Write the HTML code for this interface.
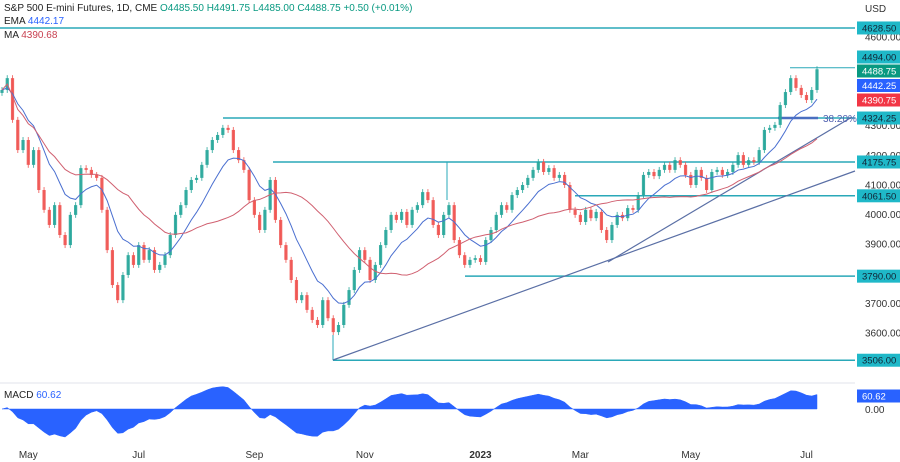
<!DOCTYPE html>
<html><head><meta charset="utf-8"><style>
body{margin:0;width:900px;height:462px;overflow:hidden;background:#fff;font-family:"Liberation Sans",sans-serif}
svg{display:block}
</style></head><body>
<svg id="c" width="900" height="462"></svg>
<script>
const closes=[4419,4459,4318,4216,4250,4166,4216,4081,4014,3963,4030,3929,3895,3997,4030,4155,4149,4132,4122,4014,3878,3760,3709,3794,3861,3828,3895,3845,3878,3811,3828,3861,3929,3997,4030,4081,4115,4122,4166,4216,4250,4267,4291,4284,4216,4182,4149,4047,3997,3946,4014,4115,3980,3895,3845,3777,3709,3726,3676,3642,3625,3709,3648,3601,3625,3693,3743,3811,3878,3845,3777,3828,3895,3946,3997,3980,4007,3963,4014,4030,4074,4047,3963,3929,3997,4030,3912,3861,3828,3845,3851,3838,3912,3946,3997,4030,4014,4064,4081,4098,4122,4149,4176,4142,4155,4122,4132,4098,4014,3997,3973,4014,3986,4007,3946,3912,3963,3997,3986,4020,4014,4064,4132,4142,4128,4149,4166,4149,4182,4166,4132,4098,4149,4122,4081,4142,4149,4132,4142,4166,4199,4166,4182,4176,4216,4284,4291,4301,4368,4412,4459,4426,4402,4385,4419,4489];
const levels=[4628.5,4494,4324.25,4175.75,4061.5,3790,3506];
const levelStartX=[0,790,223,273,575,465,333];
const tickPrices=[4600,4300,4200,4100,4000,3900,3700,3600];
const monthLabels=["May","Jul","Sep","Nov","2023","Mar","May","Jul"];
const monthBars=[5,26,48,69,91,110,131,153];
const NS="http://www.w3.org/2000/svg";
const svg=document.getElementById('c');
const X0=2,STEP=(817-2)/(closes.length-1);
const xs=i=>X0+i*STEP;
const y=p=>214-(p-4000)*0.296;
function el(t,a,p){const e=document.createElementNS(NS,t);for(const k in a)e.setAttribute(k,a[k]);(p||svg).appendChild(e);return e;}
function txt(s,a){const e=el('text',a);e.textContent=s;return e;}
const sep=el('line',{x1:0,y1:383,x2:855,y2:383,stroke:'#e0e3eb'});


levels.forEach((p,i)=>{const l=el('line',{x1:levelStartX[i],y1:y(p),x2:855,y2:y(p),stroke:'#2aa8b8','stroke-width':i==1?1:1.5});

});
el('line',{x1:447,y1:y(4175.75),x2:447,y2:200,stroke:'#2aa8b8','stroke-width':1});
el('line',{x1:333,y1:y(3506),x2:333,y2:335,stroke:'#2aa8b8','stroke-width':1});
const t1=el('line',{x1:333,y1:360,x2:855,y2:171,stroke:'#5a6fa5','stroke-width':1.2});


const t2=el('line',{x1:608,y1:262,x2:852,y2:117,stroke:'#5a6fa5','stroke-width':1.2});


el('line',{x1:778,y1:118,x2:818,y2:118,stroke:'#4a6fc0','stroke-width':2.5});
const fl=txt('38.20%',{x:823,y:122,'font-size':10,fill:'#5060b0'});


closes.forEach((c,i)=>{const o=i?closes[i-1]:c-10;const up=c>=o;const col=up?'#26a69a':'#ef5350';
const x=xs(i);const hi=Math.max(o,c)+10,lo=Math.min(o,c)-10;
const g=el('g',{});


el('line',{x1:x,y1:y(hi),x2:x,y2:y(lo),stroke:col,'stroke-width':1,opacity:0.8},g);
el('rect',{x:x-1.6,y:y(Math.max(o,c)),width:3.2,height:Math.max(1,Math.abs(y(o)-y(c))),fill:col,opacity:0.9},g);});
const ema=[];let k=2/(10+1);closes.forEach((c,i)=>ema.push(i?ema[i-1]+k*(c-ema[i-1]):c));
const ma=closes.map((c,i)=>{const s=closes.slice(Math.max(0,i-24),i+1);return s.reduce((a,b)=>a+b,0)/s.length;});
const pe=el('path',{d:ema.map((v,i)=>(i?'L':'M')+xs(i)+' '+y(v)).join(''),fill:'none',stroke:'#4a6fd0','stroke-width':1});


const pm=el('path',{d:ma.map((v,i)=>(i?'L':'M')+xs(i)+' '+y(v)).join(''),fill:'none',stroke:'#d06070','stroke-width':1});


function emaN(a,n){const r=[];const kk=2/(n+1);a.forEach((v,i)=>r.push(i?r[i-1]+kk*(v-r[i-1]):v));return r;}
const e6=emaN(closes,6),e13=emaN(closes,13);
const macd=closes.map((c,i)=>e6[i]-e13[i]);
const mmax=Math.max(...macd.map(Math.abs));const ms=28/mmax;const Z=409;
const pd='M'+xs(0)+' '+Z+macd.map((v,i)=>'L'+xs(i)+' '+(Z-v*ms)).join('')+'L'+xs(closes.length-1)+' '+Z+'Z';
const mp=el('path',{d:pd,fill:'#2962ff',stroke:'#2962ff','stroke-width':0.5});


tickPrices.forEach(p=>{const t=txt(p.toFixed(2),{x:865,y:y(p)+4,'font-size':10,fill:'#333'});

});
const us=txt('USD',{x:865,y:12,'font-size':10,fill:'#333'});


function badge(v,cy,bg,fg,name){const g=el('g',{});


el('rect',{x:857,y:cy-6.5,width:43,height:13,fill:bg},g);
const t=el('text',{x:862,y:cy+3.5,'font-size':9.5,fill:fg},g);t.textContent=v;}
levels.forEach(p=>badge(p.toFixed(2),p==4494?57:y(p),'#1fb8c8','#123','level-badge'));
badge('4488.75',71,'#089981','#fff','close-badge');
badge('4442.25',85.5,'#2962ff','#fff','ema-badge');
badge('4390.75',100,'#f23645','#fff','ma-badge');
badge('60.62',396,'#2962ff','#fff','macd-badge');
const z0=txt('0.00',{x:865,y:413,'font-size':10,fill:'#333'});


monthLabels.forEach((m,i)=>{const t=txt(m,{x:xs(monthBars[i]),y:458,'font-size':10,fill:'#333','text-anchor':'middle','font-weight':m=='2023'?'bold':'normal'});

});
const h=el('text',{x:4,y:11,'font-size':10,fill:'#222'});


h.innerHTML='S&amp;P 500 E-mini Futures, 1D, CME <tspan fill="#089981">  O4485.50  H4491.75  L4485.00  C4488.75  +0.50 (+0.01%)</tspan>';
const e1=el('text',{x:4,y:24,'font-size':10,fill:'#222'});


e1.innerHTML='EMA <tspan fill="#2962ff">4442.17</tspan>';
const m1=el('text',{x:4,y:38,'font-size':10,fill:'#222'});


m1.innerHTML='MA <tspan fill="#c84050">4390.68</tspan>';
const mc=el('text',{x:4,y:398,'font-size':10,fill:'#222'});


mc.innerHTML='MACD <tspan fill="#2962ff">60.62</tspan>';
</script>
</body></html>
